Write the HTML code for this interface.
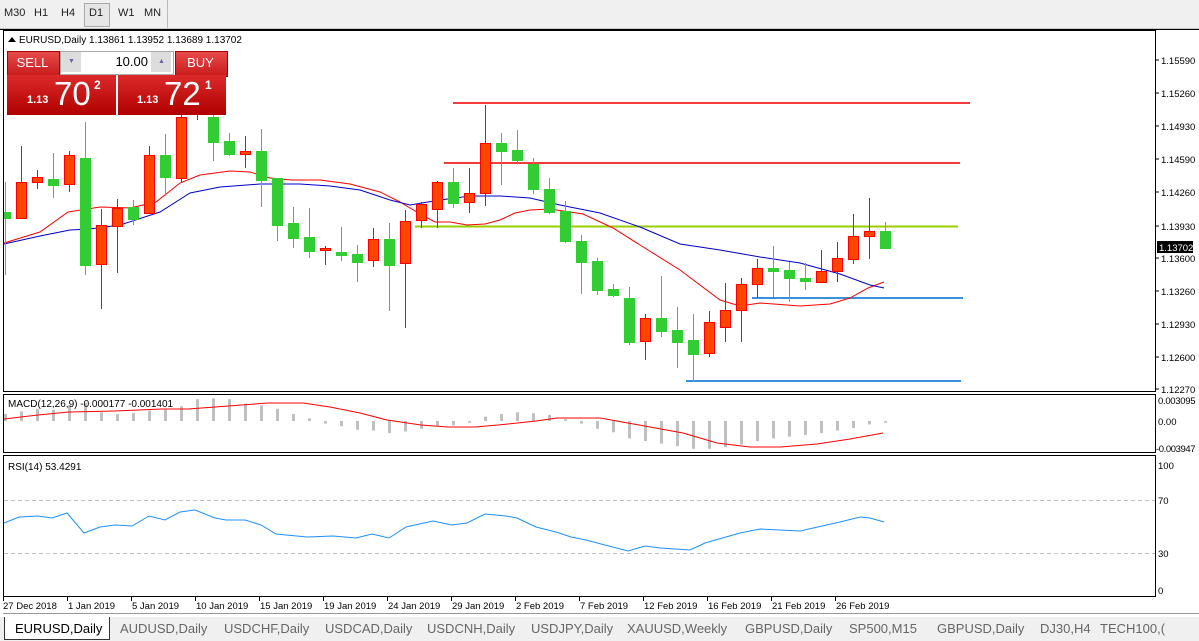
<!DOCTYPE html>
<html><head><meta charset="utf-8"><style>
body{margin:0;width:1199px;height:641px;overflow:hidden;background:#fff;font-family:"Liberation Sans",Tahoma,sans-serif;position:relative}
.tb{position:absolute;left:0;top:0;width:1199px;height:28px;background:#f0f0f0;border-bottom:1px solid #c8c8c8}
.tb span{position:absolute;top:7px;font-size:11px;color:#222}
.tabs{position:absolute;left:0;top:617px;width:1199px;height:24px;background:#f0f0f0}
.tabs span{position:absolute;top:4px;font-size:13px;color:#666}
svg{position:absolute;left:0;top:0}
.pn{position:absolute;color:#fff;text-align:center}
</style></head><body>
<div class="tb">
<span style="left:4px">M30</span><span style="left:34px">H1</span><span style="left:61px">H4</span>
<div style="position:absolute;left:84px;top:3px;width:24px;height:22px;border:1px solid #aaa;background:#e6e6e6"></div>
<span style="left:89px">D1</span><span style="left:118px">W1</span><span style="left:144px">MN</span>
<div style="position:absolute;left:167px;top:0;width:1px;height:28px;background:#bbb"></div>
</div>
<svg id="s" width="1199" height="641" xmlns="http://www.w3.org/2000/svg" font-family="Liberation Sans, Tahoma, sans-serif"></svg>
<div class="tabs">
<div style="position:absolute;left:4px;top:0;width:104px;height:22px;background:#fff;border:1px solid #333;border-top:none"></div>
<span style="left:15px;color:#000">EURUSD,Daily</span>
<span style="left:120px">AUDUSD,Daily</span><span style="left:224px">USDCHF,Daily</span><span style="left:325px">USDCAD,Daily</span><span style="left:427px">USDCNH,Daily</span><span style="left:531px">USDJPY,Daily</span><span style="left:627px">XAUUSD,Weekly</span><span style="left:745px">GBPUSD,Daily</span><span style="left:849px">SP500,M15</span><span style="left:937px">GBPUSD,Daily</span><span style="left:1040px">DJ30,H4</span><span style="left:1100px">TECH100,(</span>
</div>
<div style="position:absolute;left:7px;top:51px;width:51px;height:24px;background:linear-gradient(#e84a4a,#c81c1c);border:1px solid #a00"></div>
<div class="pn" style="left:7px;top:55px;width:51px;font-size:13px">SELL</div>
<div style="position:absolute;left:60px;top:51px;width:112px;height:22px;background:#fff;border:1px solid #aaa"></div>
<div style="position:absolute;left:61px;top:52px;width:20px;height:20px;background:#ddd"></div>
<div style="position:absolute;left:151px;top:52px;width:20px;height:20px;background:#ddd"></div>
<div style="position:absolute;left:82px;top:54px;width:66px;text-align:right;font-size:13px">10.00</div>
<div style="position:absolute;left:68px;top:58px;font-size:7px;color:#66a">▼</div>
<div style="position:absolute;left:158px;top:58px;font-size:7px;color:#66a">▲</div>
<div style="position:absolute;left:175px;top:51px;width:51px;height:24px;background:linear-gradient(#e84a4a,#c81c1c);border:1px solid #a00"></div>
<div class="pn" style="left:175px;top:55px;width:51px;font-size:13px">BUY</div>
<div style="position:absolute;left:7px;top:75px;width:109px;height:40px;background:linear-gradient(#dc2a2a,#b00000)"></div>
<div style="position:absolute;left:118px;top:75px;width:108px;height:40px;background:linear-gradient(#dc2a2a,#b00000)"></div>
<div class="pn" style="left:27px;top:94px;font-size:11px;font-weight:bold">1.13</div>
<div class="pn" style="left:54px;top:75px;font-size:33px">70</div>
<div class="pn" style="left:94px;top:78px;font-size:12px;font-weight:bold">2</div>
<div class="pn" style="left:137px;top:94px;font-size:11px;font-weight:bold">1.13</div>
<div class="pn" style="left:164px;top:75px;font-size:33px">72</div>
<div class="pn" style="left:205px;top:78px;font-size:12px;font-weight:bold">1</div>
<script>
var s=document.getElementById('s'),h='';
function L(x1,y1,x2,y2,c,w,d){h+='<line x1="'+x1+'" y1="'+y1+'" x2="'+x2+'" y2="'+y2+'" stroke="'+c+'" stroke-width="'+(w||1)+'"'+(d?' stroke-dasharray="'+d+'"':'')+'/>';}
function T(x,y,t,sz,c,a,ls){h+='<text x="'+x+'" y="'+y+'" font-size="'+(sz||10)+'" fill="'+(c||'#000')+'"'+(a?' text-anchor="'+a+'"':'')+(ls?' letter-spacing="'+ls+'"':'')+'>'+t+'</text>';}
function P(pts,c,w){h+='<polyline fill="none" stroke="'+c+'" stroke-width="'+(w||1)+'" points="'+pts.map(p=>p.join(',')).join(' ')+'"/>';}
h+='<rect x="3.5" y="30.5" width="1152" height="361" fill="none" stroke="#000"/>';
h+='<rect x="3.5" y="394.5" width="1152" height="58" fill="none" stroke="#000"/>';
h+='<rect x="3.5" y="455.5" width="1152" height="141" fill="none" stroke="#000"/>';
L(0,29.5,1199,29.5,'#000');L(3,613.5,1199,613.5,'#999');
var C=[[182,275,212,219,0],[146,218,182,218,1],[170,189,177,182,1],[153,198,179,185,0],[151,192,155,184,1],[122,275,158,265,0],[209,309,225,264,1],[199,273,208,226,1],[200,225,207,219,0],[146,213,155,213,1],[134,196,155,177,0],[113,183,117,178,1],[95,120,98,112,1],[100,161,117,142,0],[133,156,141,154,0],[136,168,151,154,1],[129,207,151,180,0],[178,241,178,225,0],[207,248,223,238,0],[208,258,237,251,0],[246,265,248,250,1],[227,261,252,255,0],[245,282,254,262,0],[228,267,239,260,1],[223,311,239,265,0],[210,328,221,263,1],[202,228,204,220,1],[181,228,182,209,1],[168,208,182,203,0],[168,213,193,202,1],[105,206,143,193,1],[133,185,143,151,0],[130,163,150,160,0],[158,194,164,189,0],[178,214,189,212,0],[201,243,211,241,0],[235,294,241,262,0],[258,295,261,290,0],[284,297,289,295,0],[287,345,298,342,0],[314,360,318,341,1],[276,337,318,331,0],[307,368,330,342,0],[314,382,340,354,0],[311,357,322,353,1],[283,342,310,327,1],[278,342,284,310,1],[259,298,268,284,1],[246,297,268,271,0],[262,302,270,278,0],[263,290,278,281,0],[250,283,271,282,1],[242,282,258,271,1],[214,264,236,259,1],[198,259,231,236,1],[222,249,231,248,0]];
var hist=[8,11,14,13,18,21,10,8,9,12,13,17,25,26,25,20,18,14,8,3,-3,-6,-10,-11,-14,-12,-9,-6,-5,-2,5,8,10,9,7,2,-3,-9,-13,-20,-23,-26,-29,-32,-32,-30,-27,-23,-20,-18,-16,-14,-11,-8,-4,-2];
L(453,103,970,103,'#f03c3c',2);L(444,163,960,163,'#f03c3c',2);L(415,226.5,958,226.5,'#9acd00',2);
L(752,298,963,298,'#3a8fdf',2);L(686,381,961,381,'#3a8fdf',2);
P([[4,243],[40,232],[68,212],[100,207],[130,208],[156,202],[180,183],[200,175],[230,171],[250,172],[270,178],[292,180],[320,180],[350,184],[380,192],[400,202],[420,214],[435,222],[450,222],[467,225],[485,224],[500,220],[515,213],[530,210],[550,209],[583,214],[613,228],[640,245],[680,270],[720,300],[740,306],[760,303],[800,306],[830,304],[850,298],[868,288],[884,282]],'#f00');
P([[4,244],[40,236],[70,230],[90,229],[120,225],[160,212],[190,193],[220,187],[260,184],[300,184],[330,186],[360,190],[390,200],[410,205],[440,200],[470,196],[500,196],[530,198],[560,205],[600,213],[640,227],[680,244],[720,250],[760,257],[800,263],[840,274],[870,285],[884,288]],'#00c');
C.forEach(function(c,i){var x=5+16*i,col=c[4]?'#ff4500':'#32cd32',wc=c[4]?'#f00':'#32cd32';
 L(x+.5,Math.max(c[0],31),x+.5,c[1],wc,1);
 if(i==0){h+='<rect x="4" y="'+c[2]+'' +'" width="7" height="'+(c[3]-c[2])+'" fill="'+col+'"/>';}
 else h+='<rect x="'+(x-4.5)+'" y="'+(c[2]+.5)+'" width="10" height="'+Math.max(c[3]-c[2],2)+'" fill="'+col+'" stroke="'+(c[4]?'#f00':'#32cd32')+'"/>';
 var v=hist[i]*0.87;h+='<rect x="'+(x-1)+'" y="'+(v>0?421-v:421)+'" width="3" height="'+Math.abs(v)+'" fill="#c0c0c0"/>';
});
P([[4,419],[38,415],[69,412],[115,411],[161,409],[188,409],[215,407],[268,403],[303,403],[330,407],[360,413],[387,420],[421,425],[448,427],[475,427],[498,425],[536,421],[557,418],[600,418],[617,421],[650,427],[683,433],[717,443],[750,447],[780,447],[817,444],[850,439],[883,433]],'#f00');
L(4,500.5,1155,500.5,'#c0c0c0',1,'4,3');L(4,553.5,1155,553.5,'#c0c0c0',1,'4,3');
P([[4,523],[19,517],[38,516],[52,518],[67,513],[84,533],[100,527],[115,525],[132,526],[149,516],[165,520],[180,512],[195,510],[215,518],[226,520],[245,520],[261,525],[276,534],[307,537],[333,536],[356,538],[372,534],[389,538],[406,527],[433,521],[452,525],[467,523],[485,514],[506,516],[517,518],[536,527],[556,532],[571,537],[586,540],[601,544],[628,551],[645,546],[660,548],[690,550],[705,543],[740,533],[760,529],[800,531],[840,522],[860,517],[870,518],[884,522]],'#1e90ff');
h+='<path d="M8 42 L12 37 L16 42Z" fill="#000"/>';
T(19,43,'EURUSD,Daily  1.13861 1.13952 1.13689 1.13702',10);
T(8,407,'MACD(12,26,9) -0.000177 -0.001401',10);T(8,470,'RSI(14) 53.4291',10);
var pl=[['1.15590',60],['1.15260',93],['1.14930',126],['1.14590',159],['1.14260',192],['1.13930',226],['1.13600',258],['1.13260',291],['1.12930',324],['1.12600',357],['1.12270',389]];
pl.forEach(p=>{L(1155,p[1],1159,p[1],'#000');T(1161,p[1]+4,p[0],9.5);});
h+='<rect x="1157" y="241" width="36" height="12" fill="#000"/>';T(1159,251,'1.13702',9.5,'#fff');
T(1158,404,'0.003095',9.5,'#000',null,'-0.3');T(1158,425,'0.00',9.5);T(1156,452,'-0.003947',9.5,'#000',null,'-0.4');
T(1158,469,'100',9.5);T(1158,504,'70',9.5);T(1158,557,'30',9.5);T(1158,594,'0',9.5);
var d=['27 Dec 2018','1 Jan 2019','5 Jan 2019','10 Jan 2019','15 Jan 2019','19 Jan 2019','24 Jan 2019','29 Jan 2019','2 Feb 2019','7 Feb 2019','12 Feb 2019','16 Feb 2019','21 Feb 2019','26 Feb 2019'];
d.forEach((t,i)=>{var x=3+64*i;L(x+.5,597,x+.5,601,'#000');T(x+(i?1:0),609,t,9.5);});
s.innerHTML=h;
</script>
</body></html>
